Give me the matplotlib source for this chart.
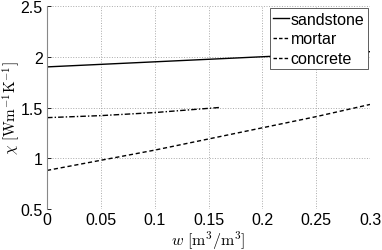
import numpy as np
import matplotlib
matplotlib.use('Agg')
import matplotlib.pyplot as plt
from matplotlib.lines import Line2D

plt.rcParams['font.family'] = ['Liberation Sans', 'DejaVu Sans']
plt.rcParams['mathtext.fontset'] = 'cm'

# data
w_sand = [0.0, 0.1, 0.2, 0.3]
k_sand = [1.90, 1.95, 2.00, 2.05]
w_mortar = [0.0, 0.05, 0.1, 0.16]
k_mortar = [1.40, 1.42, 1.45, 1.50]
w_conc = [0.0, 0.05, 0.1, 0.15, 0.2, 0.25, 0.3]
k_conc = [0.88, 0.98, 1.08, 1.19, 1.30, 1.41, 1.53]

fig = plt.figure(figsize=(3.82, 2.51), dpi=100)
ax = fig.add_axes([47/382, 1-210/251, 323/382, 203/251])

ax.plot(w_sand, k_sand, color='k', lw=1.0, ls='-')
ax.plot(w_mortar, k_mortar, color='k', lw=1.0, dashes=[4, 1.5, 1, 1.5])
ax.plot(w_conc, k_conc, color='k', lw=1.0, dashes=[3, 2])

ax.set_xlim(0, 0.3)
ax.set_ylim(0.5, 2.5)
ax.set_xticks([0, 0.05, 0.1, 0.15, 0.2, 0.25, 0.3])
ax.set_xticklabels(['0', '0.05', '0.1', '0.15', '0.2', '0.25', '0.3'])
ax.set_yticks([0.5, 1, 1.5, 2, 2.5])
ax.set_yticklabels(['0.5', '1', '1.5', '2', '2.5'])
ax.tick_params(labelsize=11.5, direction='in', length=3, width=0.6, color='k', pad=3)
ax.tick_params(axis='x', length=0, pad=2)
ax.grid(True, ls=':', color='#aaaaaa', lw=0.7)
for s in ['top', 'right', 'bottom']:
    ax.spines[s].set_visible(False)
ax.spines['left'].set_color('#888888')

ax.set_xlabel(r'$w\ [\mathrm{m^3/m^3}]$', fontsize=11.5)
ax.xaxis.set_label_coords(0.5, -0.095)
ax.set_ylabel(r'$\chi\ [\mathrm{W m^{-1} K^{-1}}]$', fontsize=11)
ax.yaxis.set_label_coords(-0.076, 0.5)

handles = [Line2D([], [], color='k', lw=1.0, ls='-'),
           Line2D([], [], color='k', lw=1.0, dashes=[2.5, 1.5]),
           Line2D([], [], color='k', lw=1.0, dashes=[2.5, 1.5])]
labels = ['sandstone', 'mortar', 'concrete']
leg = ax.legend(handles, labels, loc='upper right', fontsize=11.5, frameon=True, fancybox=False,
                handlelength=1.0, handletextpad=0.1, borderpad=0.2,
                labelspacing=0.3, borderaxespad=0.15)
leg.get_frame().set_edgecolor('#444444')
leg.get_frame().set_linewidth(0.6)
leg.get_frame().set_alpha(1)

fig.savefig('out.png', dpi=100)
